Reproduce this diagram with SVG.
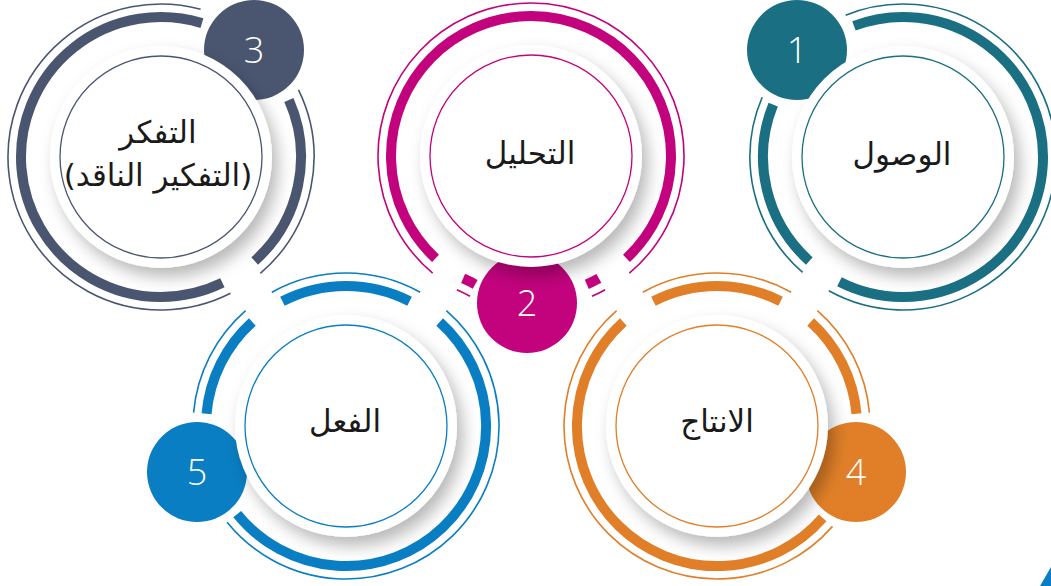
<svg xmlns="http://www.w3.org/2000/svg" width="1051" height="586" viewBox="0 0 1051 586">
<defs>
<filter id="sh" x="-40%" y="-40%" width="180%" height="180%">
<feDropShadow dx="6" dy="9" stdDeviation="8" flood-color="#000" flood-opacity="0.28"/>
</filter>
</defs>
<style>
.thick{fill:none;stroke-width:10}
.thin{fill:none;stroke-width:1.6}
.inner{fill:none;stroke-width:1.3}
.disk{fill:#fff;filter:url(#sh)}
.lbl{font-family:"DejaVu Sans",sans-serif;font-size:31px;fill:#1a1a1a;text-anchor:middle}
.num{font-family:"Open Sans","Liberation Sans",sans-serif;font-weight:300;font-size:36px;fill:#fff;text-anchor:middle}
.c1{stroke:#1a6f83}.f1{fill:#1a6f83}
.c2{stroke:#c2037d}.f2{fill:#c2037d}
.c3{stroke:#4a5670}.f3{fill:#4a5670}
.c4{stroke:#e07f28}.f4{fill:#e07f28}
.c5{stroke:#0a7ec3}.f5{fill:#0a7ec3}
</style>
<rect width="1051" height="586" fill="#fff"/>
<g id="connectors"></g>

<g id="node-3">
<path class="thick c3" d="M222.38,282.83 A140,140 0 1 1 201.94,23.12"/>
<path class="thick c3" d="M288.89,100.06 A140,140 0 0 1 254.67,261.03"/>
<path class="thin c3" d="M230.46,293.32 A153,153 0 1 1 200.60,9.22"/>
<path class="thin c3" d="M298.52,89.92 A153,153 0 0 1 260.36,273.34"/>
<circle class="f3" cx="254" cy="50" r="50"/>
<circle class="disk" cx="161" cy="157" r="111"/>
<circle class="inner c3" cx="161" cy="157" r="101"/>
<text class="lbl" x="158" y="143" direction="rtl">التفكر</text>
<text class="lbl" x="158" y="186" direction="rtl">(التفكير الناقد)</text>
<text class="num" x="254" y="63">3</text>
</g>

<g id="node-2">
<path class="thick c2" d="M435.52,258.40 A140,140 0 1 1 626.48,258.40"/>
<path class="thick c2" d="M475.18,284.39 A140,140 0 0 0 463.13,278.44"/>
<path class="thick c2" d="M598.87,278.44 A140,140 0 0 1 586.82,284.39"/>
<path class="thin c2" d="M432.65,273.20 A153,153 0 1 1 629.35,273.20"/>
<path class="thin c2" d="M470.00,296.32 A153,153 0 0 0 456.83,289.81"/>
<path class="thin c2" d="M605.17,289.81 A153,153 0 0 1 592.00,296.32"/>
<circle class="f2" cx="527" cy="303" r="50"/>
<circle class="disk" cx="531" cy="156" r="111"/>
<circle class="inner c2" cx="531" cy="156" r="101"/>
<text class="lbl" x="530" y="164" direction="rtl">التحليل</text>
<text class="num" x="527" y="316">2</text>
</g>

<g id="node-1">
<path class="thick c1" d="M809.33,261.03 A140,140 0 0 1 773.19,104.56"/>
<path class="thick c1" d="M853.97,25.86 A140,140 0 1 1 839.44,281.74"/>
<path class="thin c1" d="M802.62,272.47 A153,153 0 0 1 762.16,97.22"/>
<path class="thin c1" d="M845.69,15.14 A153,153 0 1 1 828.83,290.81"/>
<circle class="f1" cx="797" cy="50" r="50"/>
<circle class="disk" cx="903" cy="157" r="111"/>
<circle class="inner c1" cx="903" cy="157" r="101"/>
<text class="lbl" x="902" y="165" direction="rtl">الوصول</text>
<text class="num" x="797" y="63">1</text>
</g>

<g id="node-5">
<path class="thick c5" d="M282.44,301.26 A140,140 0 0 1 409.56,301.26"/>
<path class="thick c5" d="M439.67,321.97 A140,140 0 1 1 237.21,514.10"/>
<path class="thick c5" d="M206.53,413.79 A140,140 0 0 1 252.33,321.97"/>
<path class="thin c5" d="M271.83,292.19 A153,153 0 0 1 420.17,292.19"/>
<path class="thin c5" d="M446.38,310.53 A153,153 0 1 1 227.10,522.28"/>
<path class="thin c5" d="M193.58,412.66 A153,153 0 0 1 245.62,310.53"/>
<circle class="f5" cx="197" cy="472" r="50"/>
<circle class="disk" cx="346" cy="426" r="111"/>
<circle class="inner c5" cx="346" cy="426" r="101"/>
<text class="lbl" x="345" y="432" direction="rtl">الفعل</text>
<text class="num" x="197" y="485">5</text>
</g>

<g id="node-4">
<path class="thick c4" d="M653.44,301.26 A140,140 0 0 1 780.56,301.26"/>
<path class="thick c4" d="M810.67,321.97 A140,140 0 0 1 856.47,413.79"/>
<path class="thick c4" d="M822.66,517.85 A140,140 0 1 1 623.33,321.97"/>
<path class="thin c4" d="M642.83,292.19 A153,153 0 0 1 791.17,292.19"/>
<path class="thin c4" d="M817.38,310.53 A153,153 0 0 1 869.42,412.66"/>
<path class="thin c4" d="M832.47,526.38 A153,153 0 1 1 616.62,310.53"/>
<circle class="f4" cx="856" cy="472" r="50"/>
<circle class="disk" cx="717" cy="426" r="111"/>
<circle class="inner c4" cx="717" cy="426" r="101"/>
<text class="lbl" x="717" y="432" direction="rtl">الانتاج</text>
<text class="num" x="856" y="485">4</text>
</g>

<polygon points="1040,586 1051,567 1051,586" fill="#0a7ec3"/>
</svg>
